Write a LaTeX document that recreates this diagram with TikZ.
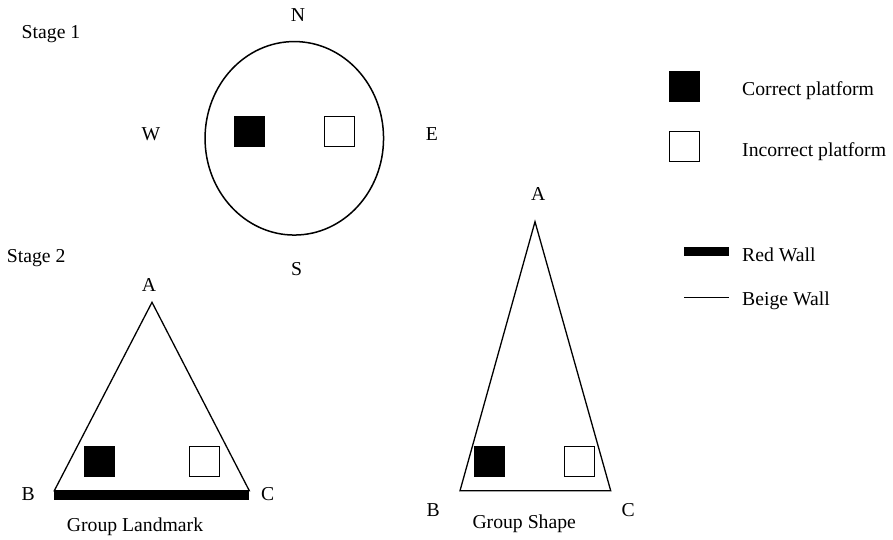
\documentclass[tikz,border=0pt]{standalone}
\usepackage{fontspec}
\setmainfont{Liberation Serif}
\usetikzlibrary{positioning,shapes.geometric}
\tikzset{
    platform/.style={
        rectangle,
        draw=black,
        line width=1.2pt,
        minimum size=30pt,
        inner sep=0pt,
    },
    correct/.style={
        platform,
        fill=black,
    },
    incorrect/.style={
        platform,
        fill=white,
    },
    tag/.style={
        anchor=base,
        inner sep=0pt,
        font=\fontsize{19.7}{23}\selectfont,
    },
    redwall/.style={
        line width=9.3pt,
    },
    beigewall/.style={
        line width=1.3pt,
    },
}
\begin{document}
\begin{tikzpicture}[x=1pt,y=-1pt]
    \useasboundingbox (0,0) rectangle (893,539);
    % stage 1
    \node [tag] (stage1) at (51,38) {Stage 1};
    \node [ellipse,draw,line width=1.5pt,minimum width=178.5pt,minimum height=193.5pt,inner sep=0pt] (arena) at (294.3,138.3) {};
    \node [correct] (s1-ok) at (249.5,131.3) {};
    \node [incorrect] (s1-no) at (339.5,131.3) {};
    \node [tag] (N) at (298,21) {N};
    \node [tag] (S) at (296.7,275.5) {S};
    \node [tag] (W) at (151,140) {W};
    \node [tag] (E) at (432,140) {E};
    % stage 2, landmark group
    \node [tag] (stage2) at (36.2,262) {Stage 2};
    \coordinate (L-A) at (152,302.3);
    \coordinate (L-B) at (54.3,490.7);
    \coordinate (L-C) at (249.3,490.7);
    \draw [beigewall,line join=miter] (L-A) -- (L-B) -- (L-C) -- cycle;
    \draw [redwall] ([yshift=-4.65pt]L-B) -- ([yshift=-4.65pt]L-C);
    \node [correct] (l-ok) at (99.5,461.3) {};
    \node [incorrect] (l-no) at (204.3,461.3) {};
    \node [tag] (l-a) at (149,291) {A};
    \node [tag] (l-b) at (28.3,500) {B};
    \node [tag] (l-c) at (267.7,500) {C};
    \node [tag] (landmark) at (135,531.7) {Group Landmark};
    % stage 2, shape group
    \coordinate (R-A) at (535,221.7);
    \coordinate (R-B) at (460,490.7);
    \coordinate (R-C) at (610.7,490.7);
    \draw [beigewall,line join=miter] (R-A) -- (R-B) -- (R-C) -- cycle;
    \node [correct] (r-ok) at (489.7,461.3) {};
    \node [incorrect] (r-no) at (579.5,461.3) {};
    \node [tag] (r-a) at (538.3,200.7) {A};
    \node [tag] (r-b) at (433.3,516) {B};
    \node [tag] (r-c) at (628.3,516) {C};
    \node [tag] (shape) at (524.2,528.3) {Group Shape};
    % legend
    \node [correct] (key-ok) at (684.8,86.5) {};
    \node [incorrect] (key-no) at (684.8,146.3) {};
    \node [tag,anchor=base west] (key-ok-txt) at (742,95.7) {Correct platform};
    \node [tag,anchor=base west] (key-no-txt) at (742,156.7) {Incorrect platform};
    \coordinate (red-l) at (684.3,251.2);
    \coordinate (red-r) at (729.3,251.2);
    \draw [redwall] (red-l) -- (red-r);
    \node [tag,anchor=base west] (key-red) at (742,261) {Red Wall};
    \coordinate (beige-l) at (684.3,297.3);
    \coordinate (beige-r) at (729.3,297.3);
    \draw [beigewall] (beige-l) -- (beige-r);
    \node [tag,anchor=base west] (key-beige) at (742,305) {Beige Wall};
\end{tikzpicture}
\end{document}
